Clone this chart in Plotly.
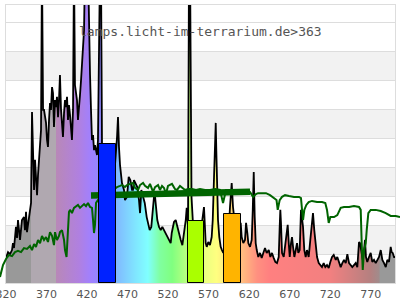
import plotly.graph_objects as go

# ---------------- data ----------------
# lamp spectrum: wavelength (nm) and relative intensity (values > 96 run off the top)
wavelength = [
    320.0, 322.5, 324.9, 327.4, 328.6, 329.9, 332.3, 333.6, 334.8, 337.3,
    339.7, 342.2, 343.4, 344.7, 345.9, 348.4, 350.9, 352.1, 353.3, 354.6,
    355.8, 357.0, 358.3, 359.5, 360.7, 362.0, 363.2, 364.4, 365.7, 366.9,
    369.4, 370.6, 371.8, 373.1, 374.3, 375.5, 376.8, 378.0, 379.2, 380.5,
    381.7, 382.9, 384.2, 385.4, 386.6, 387.9, 389.1, 390.3, 391.6, 392.8,
    394.0, 395.3, 396.5, 397.7, 399.0, 400.2, 401.4, 402.7, 403.9, 405.1,
    406.4, 407.6, 408.8, 410.1, 411.3, 412.6, 413.8, 415.0, 416.3, 417.5,
    418.7, 420.0, 421.2, 422.4, 423.7, 424.9, 426.1, 427.4, 428.6, 429.8,
    431.1, 432.3, 433.5, 434.8, 436.0, 437.2, 438.5, 440.9, 444.6, 448.3,
    452.0, 454.5, 457.0, 458.2, 459.4, 460.7, 463.1, 465.6, 466.8, 469.3,
    471.4, 473.4, 475.5, 476.7, 477.9, 480.0, 482.0, 484.1, 485.4, 487.0,
    489.1, 491.2, 493.6, 495.2, 497.3, 499.3, 500.5, 502.6, 503.5, 504.7,
    506.7, 508.8, 510.9, 512.9, 515.0, 517.1, 519.0, 521.1, 523.2, 524.5,
    526.1, 527.3, 529.4, 531.4, 533.5, 535.6, 537.6, 539.7, 541.8, 543.0,
    544.6, 545.8, 547.1, 548.0, 548.9, 550.8, 555.7, 560.6, 563.1, 564.3,
    566.4, 567.7, 569.6, 571.7, 573.8, 575.1, 576.7, 577.9, 578.8, 579.5,
    580.4, 581.6, 583.2, 584.9, 586.5, 588.1, 591.5, 595.2, 596.4, 598.5,
    600.1, 602.6, 606.3, 609.6, 610.8, 612.8, 614.9, 616.2, 617.8, 619.0,
    621.1, 623.2, 624.5, 625.7, 626.9, 628.1, 629.4, 631.3, 633.4, 635.5,
    637.5, 639.6, 641.7, 644.2, 646.2, 648.2, 650.3, 652.3, 654.4, 656.5,
    657.7, 658.5, 659.3, 660.6, 662.7, 664.7, 665.9, 667.6, 668.9, 670.1,
    671.7, 672.9, 674.2, 675.8, 677.5, 679.1, 680.7, 682.4, 684.0, 685.3,
    686.5, 688.1, 689.8, 691.4, 693.5, 695.5, 697.6, 698.8, 700.4, 702.2,
    703.8, 705.9, 707.9, 709.9, 712.0, 714.0, 716.1, 718.2, 720.2, 722.3,
    724.4, 726.9, 728.8, 730.9, 733.0, 735.0, 737.1, 739.2, 741.2, 743.3,
    745.4, 747.3, 749.4, 751.5, 753.5, 755.6, 756.8, 758.4, 760.2, 761.8,
    763.0, 764.2, 765.8, 767.9, 770.0, 772.0, 774.1, 776.2, 778.2, 780.3,
    782.4, 784.4, 786.5, 788.6, 790.5, 792.6, 794.7, 795.9, 797.2, 798.8,
    800.0,
]
intensity = [
    8.7, 10.7, 10.0, 11.4, 13.8, 12.1, 19.4, 15.6, 21.8, 14.9,
    21.8, 22.8, 18.3, 24.6, 17.6, 22.8, 27.7, 59.2, 39.1, 32.2,
    42.6, 35.6, 30.4, 37.4, 42.6, 46.0, 52.9, 110.0, 59.9, 59.9,
    55.4, 49.5, 47.1, 56.4, 62.3, 59.9, 67.8, 65.7, 54.0, 63.3,
    60.9, 64.4, 57.4, 63.3, 72.0, 59.9, 54.0, 50.5, 58.8, 63.3,
    60.9, 64.4, 56.4, 61.6, 58.1, 52.9, 49.5, 59.9, 110.0, 68.5,
    65.7, 63.3, 56.4, 59.9, 65.0, 70.2, 75.4, 78.9, 87.5, 110.0,
    115.0, 115.0, 110.0, 84.1, 72.0, 59.9, 49.5, 51.2, 46.0, 47.7,
    46.0, 44.3, 49.5, 110.0, 110.0, 110.0, 46.0, 42.6, 37.4, 35.6,
    39.1, 40.8, 50.5, 57.4, 47.1, 40.8, 34.6, 32.2, 28.7, 29.8,
    36.7, 35.6, 32.2, 32.2, 35.6, 34.6, 33.2, 28.7, 24.2, 32.2,
    29.8, 27.7, 22.8, 20.8, 18.3, 19.4, 24.2, 29.8, 31.1, 26.3,
    21.8, 19.4, 18.3, 19.4, 18.3, 17.3, 15.9, 14.9, 13.8, 17.3,
    19.4, 21.1, 21.8, 19.4, 17.3, 14.9, 13.1, 17.3, 21.8, 26.0,
    19.4, 110.0, 110.0, 69.2, 29.8, 20.1, 16.6, 18.3, 23.5, 26.3,
    13.8, 12.5, 14.2, 13.1, 15.9, 21.8, 36.7, 48.4, 55.4, 46.0,
    33.2, 21.8, 15.9, 12.5, 11.4, 10.4, 13.1, 20.1, 26.3, 34.6,
    26.3, 20.1, 17.6, 20.8, 15.9, 13.8, 14.9, 20.8, 17.3, 13.8,
    12.5, 14.9, 25.3, 38.4, 22.8, 13.8, 11.4, 9.0, 10.4, 8.7,
    10.4, 12.1, 10.4, 11.4, 9.0, 10.4, 8.7, 7.3, 6.9, 9.0,
    19.4, 25.3, 20.8, 10.4, 9.0, 13.8, 15.9, 20.1, 13.8, 9.0,
    13.8, 15.9, 12.5, 9.0, 11.4, 13.8, 10.4, 11.4, 25.3, 22.8,
    19.4, 11.4, 9.0, 11.4, 9.0, 14.9, 22.8, 24.2, 18.3, 13.8,
    9.0, 6.9, 6.2, 5.5, 6.9, 5.5, 6.2, 5.2, 7.3, 9.0,
    9.7, 8.0, 9.0, 6.9, 5.5, 6.9, 8.0, 6.9, 10.0, 6.9,
    6.2, 5.5, 6.2, 6.9, 5.5, 14.2, 13.8, 11.4, 8.0, 11.4,
    14.9, 9.0, 7.3, 9.0, 10.4, 7.3, 8.0, 6.9, 8.0, 9.0,
    11.4, 8.0, 6.9, 5.5, 8.0, 7.3, 12.5, 10.7, 10.4, 9.0,
    9.0,
]

# reference daylight curve (green line)
sun_wavelength = [
    312.6, 316.3, 320.0, 323.7, 327.4, 331.1, 334.8, 338.5, 342.2, 345.9,
    349.6, 352.1, 354.6, 357.0, 359.5, 362.0, 364.4, 366.9, 369.4, 371.8,
    374.3, 376.8, 379.2, 380.5, 382.9, 385.4, 386.6, 389.1, 391.6, 392.8,
    394.7, 396.5, 397.7, 399.0, 401.4, 403.9, 406.4, 408.8, 411.3, 413.8,
    416.3, 418.7, 421.2, 423.7, 426.1, 427.4, 428.6, 429.8, 431.1, 433.5,
    442.2, 450.8, 457.0, 460.7, 463.1, 466.8, 469.3, 473.0, 476.7, 479.2,
    482.9, 485.4, 489.1, 491.5, 495.2, 497.7, 501.4, 503.9, 507.6, 510.0,
    512.5, 515.0, 517.4, 519.9, 522.4, 524.8, 528.5, 531.0, 534.7, 537.2,
    540.9, 544.6, 549.5, 554.5, 559.4, 565.6, 571.7, 577.9, 584.1, 587.8,
    591.5, 596.4, 602.6, 608.8, 615.0, 621.1, 624.8, 628.5, 631.0, 635.9,
    640.8, 645.8, 650.7, 653.8, 655.3, 657.7, 660.6, 664.3, 669.2, 675.4,
    681.6, 684.0, 685.3, 686.5, 688.1, 690.6, 693.5, 697.6, 703.8, 710.0,
    714.0, 716.1, 718.2, 720.2, 724.8, 728.8, 733.0, 737.1, 743.3, 749.4,
    755.6, 757.7, 758.9, 760.2, 761.8, 763.9, 765.1, 767.1, 770.0, 776.2,
    782.4, 788.6, 794.7, 800.9, 806.2,
]
sun_value = [
    2.1, 6.2, 8.3, 9.7, 9.3, 10.7, 11.1, 10.7, 12.1, 11.8,
    12.8, 11.4, 13.5, 12.5, 14.9, 13.8, 16.3, 14.9, 15.9, 14.2,
    17.6, 16.3, 13.1, 17.6, 14.9, 16.3, 17.6, 18.3, 14.9, 11.4,
    9.0, 20.1, 24.6, 25.3, 24.2, 26.0, 26.6, 27.0, 26.0, 26.6,
    27.3, 26.6, 27.7, 26.3, 26.0, 21.8, 17.3, 20.1, 27.7, 28.7,
    30.4, 32.2, 33.2, 33.6, 33.9, 33.2, 33.9, 34.3, 34.6, 32.9,
    32.2, 33.9, 34.6, 33.6, 32.9, 34.3, 31.5, 33.2, 33.9, 32.2,
    33.6, 32.9, 30.8, 33.6, 33.9, 34.3, 32.5, 32.2, 33.6, 32.9,
    32.2, 32.5, 32.5, 32.2, 32.5, 32.2, 32.2, 32.5, 32.2, 27.7,
    32.2, 32.2, 32.2, 32.2, 32.2, 31.5, 29.8, 30.8, 31.1, 31.1,
    31.1, 30.4, 29.4, 28.7, 25.3, 28.7, 29.8, 30.4, 30.1, 29.8,
    29.8, 29.4, 25.3, 21.8, 25.3, 27.0, 28.0, 28.4, 28.0, 28.0,
    27.7, 25.3, 20.8, 22.8, 22.8, 23.5, 26.0, 26.3, 26.3, 26.6,
    26.3, 25.3, 13.8, 4.5, 11.4, 13.8, 18.3, 24.2, 25.3, 25.3,
    24.9, 24.2, 23.2, 23.2, 22.8,
]

# thick dark-green level segment
level_wavelength = [424.9, 621.1]
level_value = [30.3, 31.6]

# three coloured bars
bar_left = [435.0, 545.0, 589.5]
bar_right = [456.0, 564.5, 609.5]
bar_value = [48.0, 21.6, 23.8]
bar_colors = ["#0022ff", "#aaff00", "#ffb400"]

# colour of the fill by wavelength
spectrum_nm = [320, 351, 351.2, 382, 382.2, 410, 425, 440, 460, 480, 495, 510, 525,
               545, 565, 580, 595, 610, 630, 645, 720, 770, 780.8, 781, 800]
spectrum_col = ["#999999", "#999999", "#b0a8b0", "#b0a8b0", "#b888b8", "#b080e0",
                "#a080ff", "#8c8cff", "#80c0ff", "#80e6ff", "#80ffff", "#80ffa0",
                "#80ff80", "#c0ff80", "#eaff80", "#ffff80", "#ffe080", "#ffc080",
                "#ff9080", "#ff8080", "#f28080", "#b48080", "#a08c8c", "#999999",
                "#999999"]

tick_values = [320, 370, 420, 470, 520, 570, 620, 670, 720, 770]
watermark = "lamps.licht-im-terrarium.de&gt;363"

# ---------------- figure ----------------
X_MIN, X_MAX = 320, 800
Y_MAX = 96.2
DOM = [6 / 400, 395 / 400]
px_per_nm = (DOM[1] - DOM[0]) * 400 / (X_MAX - X_MIN)
x2_range = [X_MIN - DOM[0] * 400 / px_per_nm, X_MAX + (1 - DOM[1]) * 400 / px_per_nm]

span = spectrum_nm[-1] - spectrum_nm[0]
colorscale = [[(n - spectrum_nm[0]) / span, c] for n, c in zip(spectrum_nm, spectrum_col)]

fig = go.Figure()

fig.add_trace(go.Scatter(
    x=wavelength, y=intensity, mode="lines",
    line=dict(color="black", width=1.8),
    fill="tozeroy",
    fillgradient=dict(type="horizontal", colorscale=colorscale,
                      start=spectrum_nm[0], stop=spectrum_nm[-1]),
    xaxis="x", yaxis="y", hoverinfo="skip",
))

fig.add_trace(go.Scatter(
    x=sun_wavelength, y=sun_value, mode="lines",
    line=dict(color="#006400", width=2),
    xaxis="x2", yaxis="y2", hoverinfo="skip",
))
fig.add_trace(go.Scatter(
    x=level_wavelength, y=level_value, mode="lines",
    line=dict(color="#006400", width=6.5),
    xaxis="x2", yaxis="y2", hoverinfo="skip",
))

fig.add_trace(go.Bar(
    x=[(l + r) / 2 for l, r in zip(bar_left, bar_right)],
    width=[r - l for l, r in zip(bar_left, bar_right)],
    y=bar_value,
    marker=dict(color=bar_colors, line=dict(color="black", width=1)),
    xaxis="x3", yaxis="y3", hoverinfo="skip",
))

shapes = []
for lo in range(10, 90, 20):
    shapes.append(dict(type="rect", xref="x domain", yref="y", x0=0, x1=1,
                       y0=lo, y1=lo + 10, fillcolor="#f2f2f2", line_width=0,
                       layer="below"))

fig.update_layout(
    width=400, height=300,
    margin=dict(l=0, r=0, t=5, b=17, pad=0),
    paper_bgcolor="white", plot_bgcolor="rgba(0,0,0,0)",
    showlegend=False,
    bargap=0,
    shapes=shapes,
    xaxis=dict(domain=DOM, range=[X_MIN, X_MAX], tickvals=tick_values,
               showgrid=False, zeroline=False, showline=True, mirror=True,
               linecolor="#dddddd", linewidth=1, ticks="",
               ticklabeloverflow="allow", ticklabelstandoff=1,
               tickfont=dict(family="DejaVu Sans", size=11, color="#555555"),
               automargin=False, fixedrange=True),
    yaxis=dict(domain=[0, 1], range=[0, Y_MAX], dtick=10, tick0=0,
               showgrid=True, gridcolor="#dddddd", gridwidth=1,
               zeroline=False, showline=True, mirror=True,
               linecolor="#dddddd", linewidth=1,
               showticklabels=False, ticks="", automargin=False),
    xaxis2=dict(domain=[0, 1], range=x2_range, visible=False, anchor="y2"),
    yaxis2=dict(domain=[0, 1], range=[0, Y_MAX], visible=False, anchor="x2"),
    xaxis3=dict(domain=DOM, range=[X_MIN, X_MAX], visible=False, anchor="y3"),
    yaxis3=dict(domain=[0, 1], range=[0, Y_MAX], visible=False, anchor="x3"),
    annotations=[dict(text=watermark, xref="paper", yref="paper",
                      x=0.501, y=(283 - 32) / 278, xanchor="center", yanchor="middle",
                      showarrow=False,
                      font=dict(family="DejaVu Sans Mono", size=13, color="#555555"))],
)

fig.write_html("out.html")
